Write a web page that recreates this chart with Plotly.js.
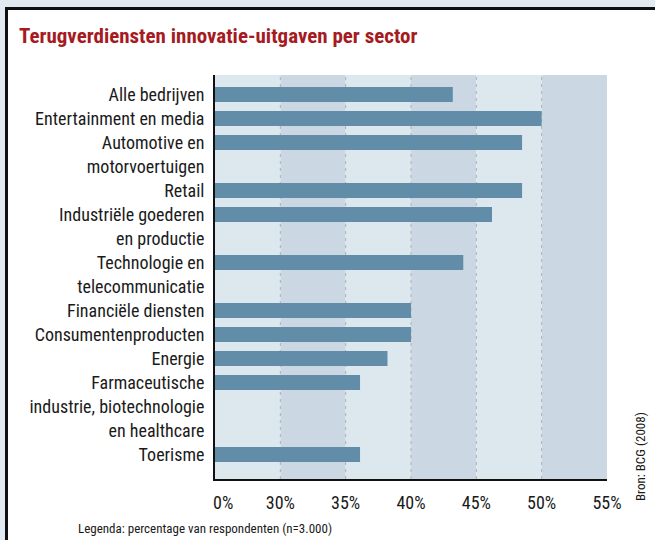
<!DOCTYPE html>
<html>
<head>
<meta charset="utf-8">
<script src="https://cdn.plot.ly/plotly-3.0.1.min.js"></script>
<style>
  html, body { margin: 0; padding: 0; width: 655px; height: 540px; overflow: hidden; background: #e1ebf1; }
  #frame { position: absolute; left: 5px; top: 7px; width: 700px; height: 600px; background: #ffffff;
           border-left: 3px solid #111; border-top: 3px solid #111; }
  #chart { position: absolute; left: 0; top: 0; width: 655px; height: 540px; }
</style>
</head>
<body>
<div id="frame"></div>
<div id="chart"></div>
<script>
// ---- data ----
const sectors = [
  "Alle bedrijven",
  "Entertainment en media",
  "Automotive en<br>motorvoertuigen",
  "Retail",
  "Industriële goederen<br>en productie",
  "Technologie en<br>telecommunicatie",
  "Financiële diensten",
  "Consumentenproducten",
  "Energie",
  "Farmaceutische<br>industrie, biotechnologie<br>en healthcare",
  "Toerisme"
];
const percentages = [43.2, 50.0, 48.5, 48.5, 46.2, 44.0, 40.0, 40.0, 38.2, 36.1, 36.1];
const tickPercents = [0, 30, 35, 40, 45, 50, 55];
const tickLabels = ["\u00a0\u00a0\u00a0\u00a00%", "30%", "35%", "40%", "45%", "50%", "55%"];
const titleText = "Terugverdiensten innovatie-uitgaven per sector";
const legendText = "Legenda: percentage van respondenten (n=3.000)";
const sourceText = "Bron: BCG (2008)";

// broken axis: 0–30% compressed into one band, then linear per 5%
function toAxis(v) { return v <= 30 ? v / 6 : v - 25; }

// each sector takes one row per label line; bar sits on its first line
const yPos = [];
const lineVals = [];
const lineTexts = [];
let row = 0;
sectors.forEach(s => {
  const lines = s.split("<br>");
  yPos.push(row);
  lines.forEach(l => { lineVals.push(row); lineTexts.push(l); row++; });
});

const FONT = "Roboto Condensed, Liberation Sans Narrow, DejaVu Sans Condensed, sans-serif";
const tickPos = tickPercents.map(toAxis);

const shapes = [];
const light = "#dde7ee", dark = "#cbd8e3";
for (let i = 0; i < tickPos.length - 1; i++) {
  shapes.push({ type: "rect", xref: "x", yref: "paper", x0: tickPos[i], x1: tickPos[i + 1], y0: 0, y1: 1,
    fillcolor: i % 2 === 0 ? light : dark, line: { width: 0 }, layer: "below" });
}
for (let i = 1; i < tickPos.length - 1; i++) {
  shapes.push({ type: "line", xref: "x", yref: "paper", x0: tickPos[i], x1: tickPos[i], y0: 0, y1: 1,
    line: { color: "#a9b0b7", width: 1, dash: "3px,4px" }, layer: "below" });
}

const W = 655, H = 540, mL = 215, mR = 48, mT = 75, mB = 61;
const pw = W - mL - mR, ph = H - mT - mB;
function px(x) { return (x - mL) / pw; }
function py(y) { return (H - mB - y) / ph; }

const trace = {
  type: "bar", orientation: "h",
  x: percentages.map(toAxis), y: yPos,
  width: 0.62,
  marker: { color: "#618da8", line: { width: 0 } },
  hoverinfo: "skip"
};

const layout = {
  width: W, height: H,
  margin: { l: mL, r: mR, t: mT, b: mB },
  paper_bgcolor: "rgba(0,0,0,0)",
  plot_bgcolor: "rgba(0,0,0,0)",
  showlegend: false,
  title: { text: "<b>" + titleText + "</b>", x: 19 / W, xanchor: "left", xref: "container",
           y: 1 - 36 / H, yanchor: "middle", yref: "container",
           font: { family: FONT, size: 21, color: "#a51b1f" } },
  xaxis: {
    range: [0, 30], tickvals: tickPos, ticktext: tickLabels,
    showgrid: false, zeroline: false, showline: true, linecolor: "#111", linewidth: 2,
    ticks: "outside", ticklen: 6, tickcolor: "rgba(0,0,0,0)",
    tickfont: { family: FONT, size: 18, color: "#1a1a1a" }, fixedrange: true
  },
  yaxis: {
    range: [16.02, -0.81], tickvals: lineVals, ticktext: lineTexts,
    showgrid: false, zeroline: false, showline: true, linecolor: "#111", linewidth: 2,
    ticks: "outside", ticklen: 5, tickcolor: "rgba(0,0,0,0)",
    tickfont: { family: FONT, size: 18, color: "#1a1a1a" }, fixedrange: true
  },
  shapes: shapes,
  annotations: [
    { text: legendText, xref: "paper", yref: "paper", x: px(76), y: py(528), xanchor: "left", yanchor: "middle",
      showarrow: false, font: { family: FONT, size: 13, color: "#1a1a1a" } },
    { text: sourceText, xref: "paper", yref: "paper", x: px(640), y: py(457), xanchor: "center", yanchor: "middle",
      textangle: -90, showarrow: false, font: { family: FONT, size: 13, color: "#1a1a1a" } }
  ]
};

Plotly.newPlot("chart", [trace], layout, { staticPlot: true, displayModeBar: false });
</script>
</body>
</html>
